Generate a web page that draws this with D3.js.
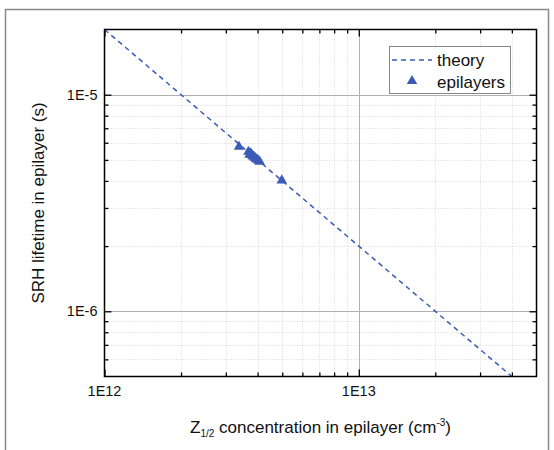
<!DOCTYPE html>
<html>
<head>
<meta charset="utf-8">
<script src="https://cdn.jsdelivr.net/npm/d3@7"></script>
<style>
  body { margin: 0; background: #fff; }
  svg { display: block; font-family: "Liberation Sans", Arial, sans-serif; }
</style>
</head>
<body>
<svg id="chart" width="554" height="450"></svg>
<script>
// Z1/2 concentration (cm^-3) and measured SRH lifetime (s) for each epilayer
const epiConcentration = [3.38e12, 3.68e12, 3.72e12, 3.75e12, 3.79e12, 3.82e12, 3.86e12, 3.90e12, 3.94e12, 3.98e12, 4.03e12, 4.08e12, 4.98e12];
const epiLifetime      = [5.75e-6, 5.45e-6, 5.28e-6, 5.36e-6, 5.30e-6, 5.20e-6, 5.18e-6, 5.12e-6, 5.06e-6, 5.02e-6, 4.96e-6, 4.90e-6, 4.02e-6];

// theory: tau = 2e7 / N  (end points of the straight line on log-log axes)
const theoryConcentration = [1e12, 4e13];
const theoryLifetime      = [2e-5, 5e-7];

// axis tick values and labels
const xMajorTicks = [1e12, 1e13];
const xMajorLabels = ["1E12", "1E13"];
const xMinorTicks = [2e12, 3e12, 4e12, 5e12, 6e12, 7e12, 8e12, 9e12, 2e13, 3e13, 4e13];
const yMajorTicks = [1e-5, 1e-6];
const yMajorLabels = ["1E-5", "1E-6"];
const yMinorTicks = [6e-7, 7e-7, 8e-7, 9e-7, 2e-6, 3e-6, 4e-6, 5e-6, 6e-6, 7e-6, 8e-6, 9e-6];

const legendLabels = ["theory", "epilayers"];

const blue = "#3b5bb5";
const svg = d3.select("#chart");

// outer frame around the figure
svg.append("rect")
  .attr("x", 5.5).attr("y", 9.5).attr("width", 543).attr("height", 460)
  .attr("fill", "none").attr("stroke", "#8a8a8a").attr("stroke-width", 1.5);

const plot = { left: 104.5, right: 536.5, top: 29.5, bottom: 376.5 };

const x = d3.scaleLog().domain([1e12, 5e13]).range([plot.left, plot.right]);
const y = d3.scaleLog().domain([5e-7, 2e-5]).range([plot.bottom, plot.top]);

const g = svg.append("g");

// minor grid (dotted)
g.append("g").selectAll("line").data(xMinorTicks).join("line")
  .attr("x1", d => Math.round(x(d)) + 0.5).attr("x2", d => Math.round(x(d)) + 0.5)
  .attr("y1", plot.top).attr("y2", plot.bottom)
  .attr("stroke", "#d4d4d4").attr("stroke-width", 1).attr("stroke-dasharray", "1,2");
g.append("g").selectAll("line").data(yMinorTicks).join("line")
  .attr("y1", d => Math.round(y(d)) + 0.5).attr("y2", d => Math.round(y(d)) + 0.5)
  .attr("x1", plot.left).attr("x2", plot.right)
  .attr("stroke", "#d4d4d4").attr("stroke-width", 1).attr("stroke-dasharray", "1,2");

// major grid (solid)
g.append("g").selectAll("line").data(xMajorTicks.slice(1)).join("line")
  .attr("x1", d => Math.round(x(d)) + 0.5).attr("x2", d => Math.round(x(d)) + 0.5)
  .attr("y1", plot.top).attr("y2", plot.bottom)
  .attr("stroke", "#b0b0b0").attr("stroke-width", 1);
g.append("g").selectAll("line").data(yMajorTicks).join("line")
  .attr("y1", d => Math.round(y(d)) + 0.5).attr("y2", d => Math.round(y(d)) + 0.5)
  .attr("x1", plot.left).attr("x2", plot.right)
  .attr("stroke", "#b0b0b0").attr("stroke-width", 1);

// axes with inward ticks on all four sides
function tickAxis(axisGen, transform) {
  const a = g.append("g").attr("transform", transform).call(axisGen);
  a.select(".domain").remove();
  a.selectAll("line").attr("stroke", "#000").attr("stroke-width", 1.3);
  a.selectAll("text").remove();
  return a;
}
const fmt = () => "";
tickAxis(d3.axisBottom(x).tickValues(xMajorTicks).tickSize(-7).tickFormat(fmt), `translate(0,${plot.bottom})`);
tickAxis(d3.axisBottom(x).tickValues(xMinorTicks).tickSize(-4).tickFormat(fmt), `translate(0,${plot.bottom})`);
tickAxis(d3.axisTop(x).tickValues(xMajorTicks).tickSize(-7).tickFormat(fmt), `translate(0,${plot.top})`);
tickAxis(d3.axisTop(x).tickValues(xMinorTicks).tickSize(-4).tickFormat(fmt), `translate(0,${plot.top})`);
tickAxis(d3.axisLeft(y).tickValues(yMajorTicks).tickSize(-7).tickFormat(fmt), `translate(${plot.left},0)`);
tickAxis(d3.axisLeft(y).tickValues(yMinorTicks).tickSize(-4).tickFormat(fmt), `translate(${plot.left},0)`);
tickAxis(d3.axisRight(y).tickValues(yMajorTicks).tickSize(-7).tickFormat(fmt), `translate(${plot.right},0)`);
tickAxis(d3.axisRight(y).tickValues(yMinorTicks).tickSize(-4).tickFormat(fmt), `translate(${plot.right},0)`);

// tick labels
g.append("g").selectAll("text").data(xMajorTicks).join("text")
  .attr("x", d => x(d)).attr("y", plot.bottom + 19)
  .attr("text-anchor", "middle").attr("font-size", 14.5).attr("fill", "#111")
  .text((d, i) => xMajorLabels[i]);
g.append("g").selectAll("text").data(yMajorTicks).join("text")
  .attr("x", plot.left - 7).attr("y", d => y(d) + 5)
  .attr("text-anchor", "end").attr("font-size", 14.5).attr("fill", "#111")
  .text((d, i) => yMajorLabels[i]);

// theory line
const line = d3.line().x(d => x(d[0])).y(d => y(d[1]));
g.append("path")
  .datum(theoryConcentration.map((c, i) => [c, theoryLifetime[i]]))
  .attr("d", line).attr("fill", "none")
  .attr("stroke", blue).attr("stroke-width", 1.5).attr("stroke-dasharray", "5,4");

// epilayer measurements
const tri = d3.symbol().type(d3.symbolTriangle).size(48);
g.append("g").selectAll("path").data(epiConcentration).join("path")
  .attr("transform", (d, i) => `translate(${x(d)},${y(epiLifetime[i])})`)
  .attr("d", tri).attr("fill", blue);

// plot frame
g.append("rect")
  .attr("x", plot.left).attr("y", plot.top)
  .attr("width", plot.right - plot.left).attr("height", plot.bottom - plot.top)
  .attr("fill", "none").attr("stroke", "#000").attr("stroke-width", 1.5);

// legend
const lg = svg.append("g");
lg.append("rect").attr("x", 389.5).attr("y", 46.5).attr("width", 121).attr("height", 47)
  .attr("fill", "#fff").attr("stroke", "#888").attr("stroke-width", 1);
lg.append("line").attr("x1", 392).attr("x2", 432).attr("y1", 60).attr("y2", 60)
  .attr("stroke", blue).attr("stroke-width", 1.5).attr("stroke-dasharray", "5,4");
lg.append("path").attr("transform", "translate(412,81)").attr("d", tri).attr("fill", blue);
lg.selectAll("text").data(legendLabels).join("text")
  .attr("x", 437).attr("y", (d, i) => 66 + i * 21.5)
  .attr("font-size", 17).attr("fill", "#111")
  .text(d => d);

// axis titles
const yt = svg.append("text")
  .attr("transform", `translate(44,${(plot.top + plot.bottom) / 2}) rotate(-90)`)
  .attr("text-anchor", "middle").attr("font-size", 17).attr("fill", "#111")
  .text("SRH lifetime in epilayer (s)");

const xt = svg.append("text")
  .attr("x", (plot.left + plot.right) / 2).attr("y", 433)
  .attr("text-anchor", "middle").attr("font-size", 17).attr("fill", "#111");
xt.append("tspan").text("Z");
xt.append("tspan").attr("font-size", 10).attr("dy", 4).text("1/2");
xt.append("tspan").attr("dy", -4).text(" concentration in epilayer (cm");
xt.append("tspan").attr("font-size", 10).attr("dy", -7).text("-3");
xt.append("tspan").attr("dy", 7).text(")");
</script>
</body>
</html>
